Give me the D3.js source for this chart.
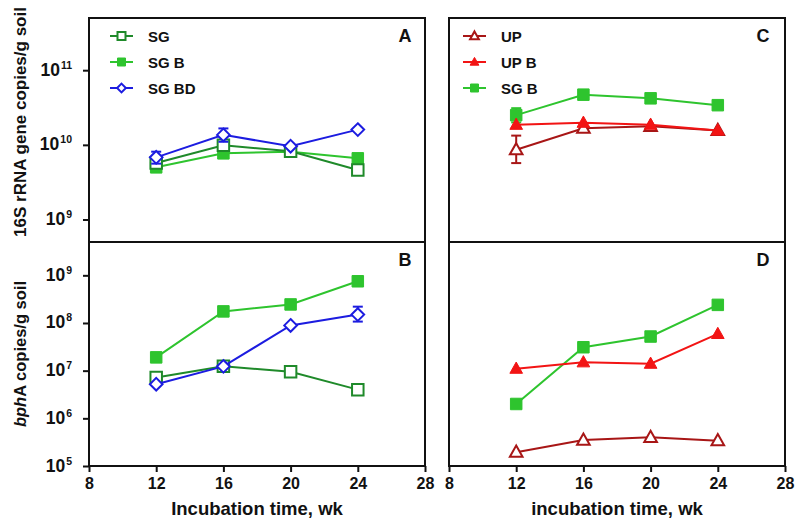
<!DOCTYPE html>
<html><head><meta charset="utf-8">
<script src="https://cdn.jsdelivr.net/npm/d3@7"></script>
<style>body{margin:0;background:#fff}svg{display:block}text{font-family:"Liberation Sans",Arial,sans-serif;font-weight:bold;fill:#111}</style>
</head><body><svg id="c" width="800" height="526"></svg>
<script>
// ---- data ----
const weeks = [12, 16, 20, 24];
const xTicks = [8, 12, 16, 20, 24, 28];
const topTicks = [1e9, 1e10, 1e11];
const bottomTicks = [1e5, 1e6, 1e7, 1e8, 1e9];

// Panel A (16S rRNA)
const A_SG   = [5.7e9, 9.9e9, 8.2e9, 4.6e9];
const A_SGB  = [5.0e9, 7.7e9, 8.1e9, 6.6e9];
const A_SGBD = [6.8e9, 1.36e10, 9.6e9, 1.6e10];
const A_SGBD_err = [[5.6e9, 8.1e9], [1.1e10, 1.66e10], null, null];
// Panel B (bphA)
const B_SG   = [7.2e6, 1.23e7, 9.5e6, 4.0e6];
const B_SGB  = [1.9e7, 1.75e8, 2.45e8, 7.5e8];
const B_SGBD = [5.2e6, 1.23e7, 8.9e7, 1.5e8];
const B_SGBD_err = [null, null, null, [1.07e8, 2.2e8]];
// Panel C (16S rRNA)
const C_UP   = [8.6e9, 1.67e10, 1.77e10, 1.56e10];
const C_UP_err = [[5.7e9, 1.33e10], null, null, null];
const C_UPB  = [1.86e10, 1.98e10, 1.86e10, 1.56e10];
const C_SGB  = [2.5e10, 4.7e10, 4.2e10, 3.4e10];
const C_SGB_err = [[2.0e10, 3.1e10], null, null, null];
// Panel D (bphA)
const D_UP   = [1.95e5, 3.5e5, 4.0e5, 3.4e5];
const D_UPB  = [1.1e7, 1.5e7, 1.4e7, 5.9e7];
const D_SGB  = [2.0e6, 3.1e7, 5.2e7, 2.4e8];

const leftLegend = ["SG", "SG B", "SG BD"];
const rightLegend = ["UP", "UP B", "SG B"];

// ---- styles ----
const sty = {
  SG:   {color: "#1f8a2a", shape: "square", fill: false},
  SGB:  {color: "#2ec42e", shape: "square", fill: true},
  SGBD: {color: "#1c1ce0", shape: "diamond", fill: false},
  UP:   {color: "#a81616", shape: "triangle", fill: false},
  UPB:  {color: "#f21414", shape: "triangle", fill: true}
};

const svg = d3.select("#c");
const L = {x0: 89, x1: 425}, R = {x0: 449, x1: 785};
const yTop = 18, yMid = 242, yBot = 466;

const xL = d3.scaleLinear().domain([8, 28]).range([L.x0, L.x1]);
const xR = d3.scaleLinear().domain([8, 28]).range([R.x0, R.x1]);
const yT = d3.scaleLog().domain([5e8, 5e11]).range([yMid, yTop]);
const yB = d3.scaleLog().domain([1e5, 5e9]).range([yBot, yMid]);

function marker(g, shape, cx, cy, s, color, fill) {
  const h = s / 2;
  let d;
  if (shape === "square") d = `M${cx-h},${cy-h}h${s}v${s}h${-s}Z`;
  else if (shape === "diamond") d = `M${cx},${cy-h*1.1}L${cx+h*1.1},${cy}L${cx},${cy+h*1.1}L${cx-h*1.1},${cy}Z`;
  else d = `M${cx},${cy-h*1.15}L${cx+h*1.1},${cy+h*0.8}L${cx-h*1.1},${cy+h*0.8}Z`;
  g.append("path").attr("d", d)
    .attr("fill", fill ? color : "#fff")
    .attr("stroke", color).attr("stroke-width", fill ? 1 : 2)
    .attr("stroke-linejoin", "miter");
}

function series(x, y, vals, key, err) {
  const st = sty[key];
  const g = svg.append("g");
  const line = d3.line().x((d, i) => x(weeks[i])).y(d => y(d));
  g.append("path").attr("d", line(vals)).attr("fill", "none")
    .attr("stroke", st.color).attr("stroke-width", 2);
  if (err) err.forEach((e, i) => {
    if (!e) return;
    const cx = x(weeks[i]);
    g.append("line").attr("x1", cx).attr("x2", cx).attr("y1", y(e[0])).attr("y2", y(e[1]))
      .attr("stroke", st.color).attr("stroke-width", 2);
    e.forEach(v => g.append("line").attr("x1", cx - 5).attr("x2", cx + 5)
      .attr("y1", y(v)).attr("y2", y(v)).attr("stroke", st.color).attr("stroke-width", 2));
  });
  vals.forEach((v, i) => marker(g, st.shape, x(weeks[i]), y(v), 11.5, st.color, st.fill));
}

function legend(x0, keys, labels) {
  keys.forEach((k, i) => {
    const st = sty[k];
    const cy = 36 + i * 26;
    const g = svg.append("g");
    g.append("line").attr("x1", x0).attr("x2", x0 + 23).attr("y1", cy).attr("y2", cy)
      .attr("stroke", st.color).attr("stroke-width", 2);
    marker(g, st.shape, x0 + 11.5, cy, 8, st.color, st.fill);
    g.append("text").attr("x", x0 + 38).attr("y", cy + 5.5).attr("font-size", 15).text(labels[i]);
  });
}

function yAxis(y, ticks) {
  const g = svg.append("g").attr("transform", `translate(${L.x0},0)`);
  g.call(d3.axisLeft(y).tickValues(ticks).tickSize(6).tickFormat(""));
  g.select(".domain").remove();
  g.selectAll(".tick line").attr("stroke", "#111").attr("stroke-width", 2);
  ticks.forEach(t => {
    const e = Math.round(Math.log10(t));
    const tx = svg.append("text").attr("x", L.x0 - 17).attr("y", y(t) + 5.5)
      .attr("text-anchor", "end").attr("font-size", 17.5);
    tx.append("tspan").text("10");
    tx.append("tspan").attr("dx", 1).attr("dy", -7).attr("font-size", 10.5).text(e);
  });
}

function xAxis(x) {
  const g = svg.append("g").attr("transform", `translate(0,${yBot})`);
  g.call(d3.axisBottom(x).tickValues(xTicks).tickSize(6).tickPadding(6).tickFormat(d3.format("d")));
  g.select(".domain").remove();
  g.selectAll(".tick line").attr("stroke", "#111").attr("stroke-width", 2);
  g.selectAll(".tick text").attr("font-size", 16).attr("fill", "#111")
    .attr("font-family", '"Liberation Sans",Arial,sans-serif').attr("font-weight", "bold");
}

// data
series(xL, yT, A_SGB, "SGB");
series(xL, yT, A_SG, "SG");
series(xL, yT, A_SGBD, "SGBD", A_SGBD_err);
series(xL, yB, B_SGB, "SGB");
series(xL, yB, B_SG, "SG");
series(xL, yB, B_SGBD, "SGBD", B_SGBD_err);
series(xR, yT, C_SGB, "SGB", C_SGB_err);
series(xR, yT, C_UP, "UP", C_UP_err);
series(xR, yT, C_UPB, "UPB");
series(xR, yB, D_SGB, "SGB");
series(xR, yB, D_UPB, "UPB");
series(xR, yB, D_UP, "UP");

// frames
[L, R].forEach(p => {
  svg.append("rect").attr("x", p.x0).attr("y", yTop).attr("width", p.x1 - p.x0).attr("height", yBot - yTop)
    .attr("fill", "none").attr("stroke", "#111").attr("stroke-width", 2);
  svg.append("line").attr("x1", p.x0).attr("x2", p.x1).attr("y1", yMid).attr("y2", yMid)
    .attr("stroke", "#111").attr("stroke-width", 2);
});

yAxis(yT, topTicks);
yAxis(yB, bottomTicks);
xAxis(xL);
xAxis(xR);

legend(110, ["SG", "SGB", "SGBD"], leftLegend);
legend(463, ["UP", "UPB", "SGB"], rightLegend);

// panel letters
[["A", 405, 42], ["C", 763, 42], ["B", 405, 266], ["D", 763, 266]].forEach(([t, x, y]) =>
  svg.append("text").attr("x", x).attr("y", y).attr("text-anchor", "middle").attr("font-size", 18).text(t));

// axis titles
svg.append("text").attr("transform", `translate(26,122) rotate(-90)`)
  .attr("text-anchor", "middle").attr("font-size", 17).text("16S rRNA gene copies/g soil");
const bt = svg.append("text").attr("transform", `translate(26,${(yMid + yBot) / 2}) rotate(-90)`)
  .attr("text-anchor", "middle").attr("font-size", 16.5);
bt.append("tspan").attr("font-style", "italic").text("bph");
bt.append("tspan").text("A copies/g soil");

svg.append("text").attr("x", (L.x0 + L.x1) / 2).attr("y", 515).attr("text-anchor", "middle")
  .attr("font-size", 18.5).text("Incubation time, wk");
svg.append("text").attr("x", (R.x0 + R.x1) / 2).attr("y", 515).attr("text-anchor", "middle")
  .attr("font-size", 18.5).text("incubation time, wk");
</script></body></html>
